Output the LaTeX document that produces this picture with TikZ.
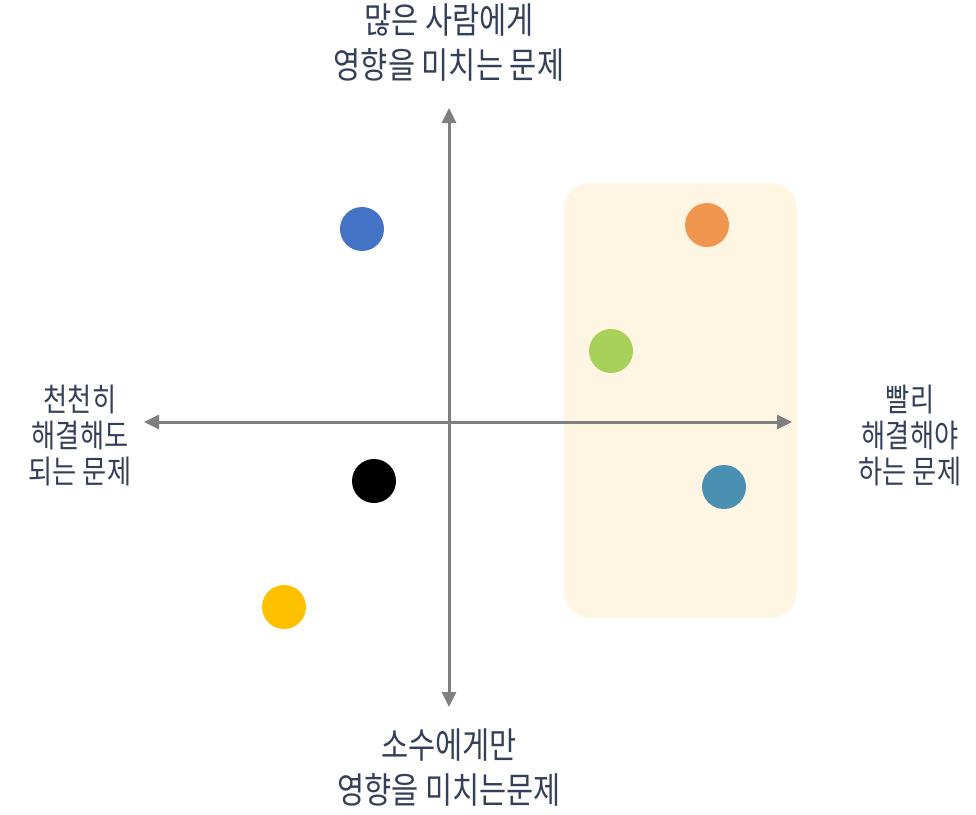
\documentclass[tikz,border=0pt]{standalone}
\usepackage{fontspec}
\newfontfamily\kr[FakeStretch=0.82]{Noto Sans CJK KR}
\usetikzlibrary{arrows.meta}

\definecolor{axisgray}{HTML}{7F7F7F}
\definecolor{labelblue}{HTML}{34405A}
\definecolor{zonefill}{HTML}{FEF6E2}
\definecolor{dotblue}{HTML}{4472C4}
\definecolor{dotorange}{HTML}{F0964E}
\definecolor{dotgreen}{HTML}{A8D15A}
\definecolor{dotteal}{HTML}{4A90B3}
\definecolor{dotyellow}{HTML}{FFC000}

\begin{document}
\begin{tikzpicture}[
  x=1pt, y=-1pt,
  every node/.style={inner sep=0pt},
  dot/.style={circle, minimum size=44pt, inner sep=0pt},
  axis/.style={draw=axisgray, line width=3pt,
    {Triangle[width=14pt,length=15pt]}-{Triangle[width=14pt,length=15pt]}},
  vlabel/.style={align=center, text=labelblue,
    font=\kr\fontsize{36}{45}\selectfont},
  hlabel/.style={align=center, text=labelblue,
    font=\kr\fontsize{32}{36}\selectfont}]

  \useasboundingbox (0,0) rectangle (976,814);

  % ---- urgent zone --------------------------------------------------------
  \fill[zonefill, rounded corners=26pt] (564,183) rectangle (797,618);

  % ---- axes ---------------------------------------------------------------
  \coordinate (top)    at (449,108);
  \coordinate (bottom) at (449,707);
  \coordinate (left)   at (144,422);
  \coordinate (right)  at (792,422);
  \draw[axis] (bottom) -- (top);
  \draw[axis] (left) -- (right);

  % ---- issues -------------------------------------------------------------
  \node[dot, fill=dotblue]   (blue)   at (362,229) {};
  \node[dot, fill=dotorange] (orange) at (707,225) {};
  \node[dot, fill=dotgreen]  (green)  at (611,351) {};
  \node[dot, fill=black]     (black)  at (374,481) {};
  \node[dot, fill=dotteal]   (teal)   at (724,487) {};
  \node[dot, fill=dotyellow] (yellow) at (284,607) {};

  % ---- axis labels --------------------------------------------------------
  \node[vlabel] (many)  at (449,43)  {많은 사람에게\\영향을 미치는 문제};
  \node[vlabel] (few)   at (449,768) {소수에게만\\영향을 미치는문제};
  \node[hlabel] (slow)  at (80,436)  {천천히\\해결해도\\되는 문제};
  \node[hlabel] (fast)  at (910,436) {빨리\\해결해야\\하는 문제};
\end{tikzpicture}
\end{document}
